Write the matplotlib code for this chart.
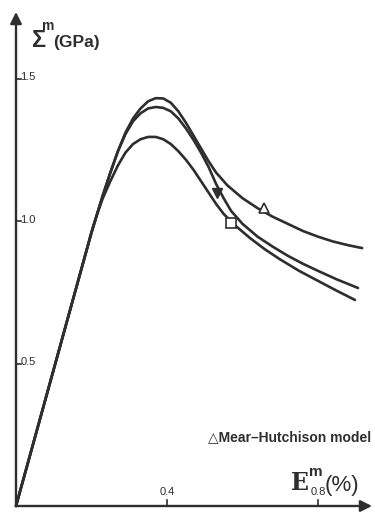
import numpy as np
import matplotlib.pyplot as plt

# curves: strain (%) vs stress (GPa)
strain_a = [0, 0.10, 0.20, 0.23, 0.25, 0.27, 0.29, 0.31, 0.33, 0.35, 0.37, 0.39, 0.41,
            0.43, 0.45, 0.47, 0.49, 0.51, 0.53, 0.56, 0.60, 0.64, 0.68, 0.72, 0.76,
            0.80, 0.84, 0.88, 0.917]
stress_a = [0, 0.48, 0.96, 1.09, 1.17, 1.245, 1.31, 1.36, 1.395, 1.42, 1.431, 1.43, 1.415,
            1.385, 1.345, 1.30, 1.255, 1.21, 1.17, 1.125, 1.08, 1.045, 1.015, 0.99, 0.965,
            0.945, 0.928, 0.915, 0.905]

strain_b = [0, 0.10, 0.20, 0.23, 0.25, 0.27, 0.29, 0.31, 0.33, 0.35, 0.37, 0.39, 0.41,
            0.43, 0.45, 0.47, 0.49, 0.51, 0.53, 0.55, 0.57, 0.60, 0.64, 0.68, 0.72,
            0.76, 0.80, 0.85, 0.906]
stress_b = [0, 0.48, 0.96, 1.09, 1.17, 1.245, 1.305, 1.35, 1.378, 1.395, 1.40, 1.397, 1.385,
            1.36, 1.325, 1.285, 1.24, 1.19, 1.13, 1.08, 1.035, 0.99, 0.945, 0.91, 0.878,
            0.85, 0.825, 0.795, 0.765]

strain_c = [0, 0.10, 0.20, 0.215, 0.23, 0.25, 0.27, 0.29, 0.31, 0.33, 0.35, 0.37, 0.39,
            0.41, 0.43, 0.45, 0.47, 0.49, 0.51, 0.53, 0.55, 0.58, 0.62, 0.66, 0.70,
            0.75, 0.80, 0.85, 0.898]
stress_c = [0, 0.48, 0.96, 1.025, 1.08, 1.14, 1.195, 1.24, 1.27, 1.287, 1.295, 1.295, 1.287,
            1.27, 1.245, 1.215, 1.18, 1.14, 1.10, 1.06, 1.025, 0.985, 0.94, 0.90, 0.865,
            0.825, 0.79, 0.755, 0.723]

# Mear-Hutchison model points
mh_open_tri = (0.657, 1.046)
mh_filled_tri = (0.532, 1.10)
mh_square = (0.57, 0.993)

yticks = [0.5, 1.0, 1.5]
xticks = [0.4, 0.8]

ink = '#2e2e2e'
plt.rcParams['font.family'] = ['Liberation Sans', 'DejaVu Sans']

fig = plt.figure(figsize=(3.75, 5.13), dpi=100)
ax = fig.add_axes([16/375, 7/513, 356/375, 494/513])
ax.set_xlim(0, 356/377.5)
ax.set_ylim(0, 494/285)
for s in ax.spines.values():
    s.set_visible(False)
ax.set_xticks([])
ax.set_yticks([])

for xs, ys in [(strain_a, stress_a), (strain_b, stress_b), (strain_c, stress_c)]:
    ax.plot(xs, ys, color=ink, lw=1.9, solid_capstyle='round',
            solid_joinstyle='round', clip_on=False)

ax.plot(*mh_open_tri, marker='^', ms=7, mfc='white', mec=ink, mew=1.2)
ax.plot(*mh_filled_tri, marker='v', ms=7, mfc=ink, mec=ink)
ax.plot(*mh_square, marker='s', ms=7, mfc='white', mec=ink, mew=1.2)

# axes with arrows
for tip in [(1, 0), (0, 1)]:
    ax.annotate('', xy=tip, xytext=(0, 0), xycoords='axes fraction',
                arrowprops=dict(arrowstyle='-|>', lw=1.7, color=ink, mutation_scale=17,
                                shrinkA=0, shrinkB=0))

for v in yticks:
    ax.plot([0, 0.012], [v, v], color=ink, lw=1.2)
    ax.text(0.012, v + 0.005, '%.1f' % v, fontsize=8, color=ink, va='center', ha='left')
for v in xticks:
    ax.plot([v, v], [0, 0.02], color=ink, lw=1.2)
    ax.text(v, 0.03, '%.1f' % v, fontsize=8, color=ink, va='bottom', ha='center')

# axis labels
ax.text(0.042, 1.635, '\u03a3', fontsize=17, fontweight='bold', color=ink,
        va='center', ha='left')
ax.text(0.07, 1.685, 'm', fontsize=10, fontweight='bold', color=ink,
        va='center', ha='left')
ax.text(0.098, 1.628, '(GPa)', fontsize=12.5, fontweight='bold', color=ink,
        va='center', ha='left')

ax.text(0.728, 0.04, 'E', fontsize=17, fontweight='bold', color=ink,
        family='DejaVu Serif', va='bottom', ha='left')
ax.text(0.777, 0.095, 'm', fontsize=11, fontweight='bold', color=ink,
        va='bottom', ha='left')
ax.text(0.818, 0.035, '(%)', fontsize=16, color=ink, va='bottom', ha='left')

ax.text(0.94, 0.24, '\u25b3Mear\u2013Hutchison model', fontsize=10, fontweight='bold',
        color=ink, va='center', ha='right')

plt.savefig('out.png', dpi=100)
